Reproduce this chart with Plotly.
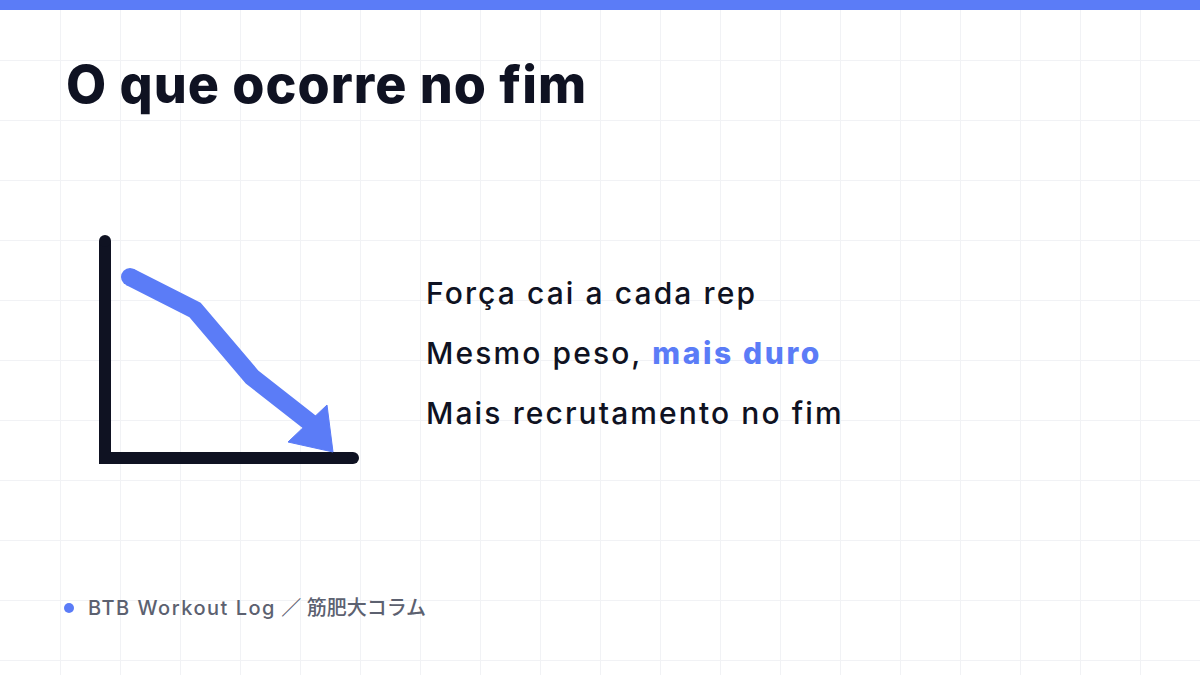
import plotly.graph_objects as go

# slide texts
title = "O que ocorre no fim"
bullets = ["Força cai a cada rep",
           "Mesmo peso, <span style='color:#5b7cf7;font-weight:800;letter-spacing:2.6px'>mais duro</span>",
           "Mais recrutamento no fim"]
bullet_y = [293, 353, 413]
footer_latin = "BTB Workout Log"
footer_cjk = "／ 筋肥大コラム"

# icon: axes and falling curve (pixel coords of the slide)
axis_x = [105, 105, 353]
axis_y = [241, 458, 458]
curve_x = [130, 195, 252, 312]
curve_y = [277, 310, 377, 424]
head_x = [288, 327, 333, 288]
head_y = [442, 405, 452, 442]

BLUE = "#5b7cf7"
DARK = "#0f1222"
FONT = "Inter, Noto Sans CJK JP"


def spaced(txt, px):
    return f"<span style='letter-spacing:{px}px'>{txt}</span>"


fig = go.Figure()

fig.add_trace(go.Scatter(x=axis_x, y=axis_y, mode="lines",
                         line=dict(color=DARK, width=12), hoverinfo="skip"))
fig.add_trace(go.Scatter(x=[axis_x[0], axis_x[-1]], y=[axis_y[0], axis_y[-1]], mode="markers",
                         marker=dict(color=DARK, size=12, opacity=1, line=dict(width=0)),
                         hoverinfo="skip"))
fig.add_trace(go.Scatter(x=curve_x, y=curve_y, mode="lines",
                         line=dict(color=BLUE, width=18), hoverinfo="skip"))
fig.add_trace(go.Scatter(x=curve_x[:1], y=curve_y[:1], mode="markers",
                         marker=dict(color=BLUE, size=18, opacity=1, line=dict(width=0)),
                         hoverinfo="skip"))
fig.add_trace(go.Scatter(x=head_x, y=head_y, mode="lines", fill="toself",
                         fillcolor=BLUE, line=dict(color=BLUE, width=1),
                         hoverinfo="skip"))

# top band
fig.add_shape(type="rect", xref="paper", yref="paper", x0=0, x1=1, y0=1, y1=1 - 10 / 675,
              fillcolor=BLUE, line_width=0, layer="above")

fig.add_annotation(x=64, y=84, text=spaced(title, 1), showarrow=False,
                   xanchor="left", yanchor="middle",
                   font=dict(family=FONT, size=52, color=DARK, weight=800))

for txt, yy in zip(bullets, bullet_y):
    fig.add_annotation(x=424, y=yy, text=spaced(txt, 2.1), showarrow=False,
                       xanchor="left", yanchor="middle",
                       font=dict(family=FONT, size=30, color=DARK, weight=500))

fig.add_trace(go.Scatter(x=[69], y=[608], mode="markers",
                         marker=dict(color=BLUE, size=10, line=dict(width=0)), hoverinfo="skip"))
fig.add_annotation(x=86, y=608, text=spaced(footer_latin, 1.5) + " " + spaced(footer_cjk, 0),
                   showarrow=False, xanchor="left", yanchor="middle",
                   font=dict(family=FONT, size=20, color="#5c6170", weight=500))

grid = dict(showgrid=True, gridcolor="#f1f2f5", gridwidth=1, dtick=60,
            zeroline=False, showticklabels=False, ticks="", showline=False)
fig.update_layout(
    width=1200, height=675,
    margin=dict(l=0, r=0, t=0, b=0),
    paper_bgcolor="white", plot_bgcolor="white",
    showlegend=False,
    xaxis=dict(range=[0, 1200], **grid),
    yaxis=dict(range=[675, 0], **grid),
)

fig.write_html("out.html", config={"displayModeBar": False},
               post_script="document.body.style.margin='0';")
